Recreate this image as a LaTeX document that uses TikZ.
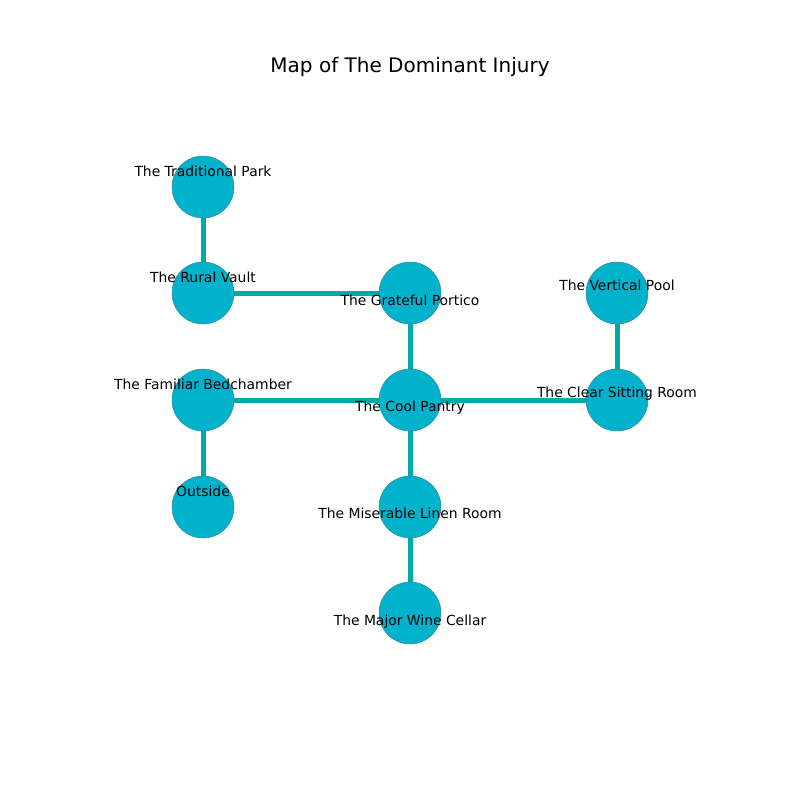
\documentclass[tikz,border=0pt]{standalone}
\usepackage{fontspec}
\setmainfont{DejaVu Sans}
\usetikzlibrary{positioning, backgrounds}
\definecolor{roomfill}{HTML}{00B2CC}
\definecolor{roomedge}{HTML}{2E8A9C}
\definecolor{passage}{HTML}{00A9A9}
\begin{document}
\begin{tikzpicture} [x = 0.72pt, y = -0.72pt,
  room/.style = {circle, fill = roomfill, draw = roomedge, line width = 0.4pt, minimum size = 44.6pt, inner sep = 0pt},
  tag/.style = {font = \fontsize{10}{12}\selectfont, inner sep = 0pt},
  link/.style = {draw = passage, line width = 3.6pt}]
\useasboundingbox (0,0) rectangle (800,800);
\node[font = \fontsize{14.4}{16}\selectfont] (title) at (410,67) {Map of The Dominant Injury};
% rooms
\node[room](p1) at (203,187) {};
\node[room](v1) at (203,293) {};
\node[room](g1) at (410,293) {};
\node[room](vp) at (617,293) {};
\node[room](b1) at (203,400) {};
\node[room](c1) at (410,400) {};
\node[room](s1) at (617,400) {};
\node[room](o1) at (203,507) {};
\node[room](l1) at (410,507) {};
\node[room](w1) at (410,613) {};
% passages
\begin{scope}[on background layer]
\draw[link] (p1) -- (v1);
\draw[link] (v1) -- (g1);
\draw[link] (g1) -- (c1);
\draw[link] (vp) -- (s1);
\draw[link] (b1) -- (c1);
\draw[link] (c1) -- (s1);
\draw[link] (b1) -- (o1);
\draw[link] (c1) -- (l1);
\draw[link] (l1) -- (w1);
\end{scope}
% labels
\node[tag](tp1) at ([yshift = 11.5pt]p1) {The Traditional Park};
\node[tag](tv1) at ([yshift = 11.5pt]v1) {The Rural Vault};
\node[tag](tg1) at ([yshift = -5pt]g1) {The Grateful Portico};
\node[tag](tvp) at ([yshift = 5.8pt]vp) {The Vertical Pool};
\node[tag](tb1) at ([yshift = 11.5pt]b1) {The Familiar Bedchamber};
\node[tag](tc1) at ([yshift = -5.8pt]c1) {The Cool Pantry};
\node[tag](ts1) at ([yshift = 4.3pt]s1) {The Clear Sitting Room};
\node[tag](to1) at ([yshift = 11.5pt]o1) {Outside};
\node[tag](tl1) at ([yshift = -4.3pt]l1) {The Miserable Linen Room};
\node[tag](tw1) at ([yshift = -6.4pt]w1) {The Major Wine Cellar};
\end{tikzpicture}
\end{document}
